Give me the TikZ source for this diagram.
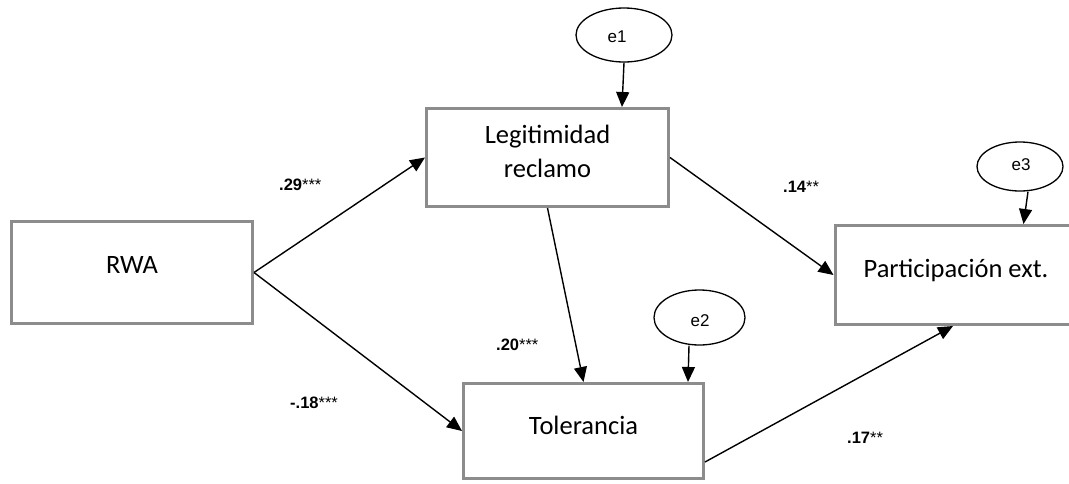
\documentclass[tikz,border=0pt]{standalone}
\usepackage{fontspec}
\setmainfont{Carlito}
\newfontfamily\arialf{Liberation Sans}
\usetikzlibrary{arrows.meta,calc,shapes.geometric}
\definecolor{boxgray}{HTML}{8C8C8C}
\begin{document}
\begin{tikzpicture}[x=1pt,y=-1pt,
  varbox/.style={draw=boxgray,line width=3pt,fill=white,inner sep=0pt,minimum width=#1},
  errell/.style={draw=black,line width=1.3pt,ellipse,inner sep=0pt,minimum width=#1},
  boxtext/.style={anchor=base,font=\fontsize{26.5}{34}\selectfont,inner sep=0pt},
  errtext/.style={anchor=base,font=\arialf\fontsize{17}{20}\selectfont,inner sep=0pt},
  coef/.style={anchor=base west,font=\arialf\bfseries\fontsize{16.5}{19}\selectfont,inner sep=0pt},
  path/.style={draw=black,line width=1.4pt,-{Triangle[length=15pt,width=13pt]}}
]
\useasboundingbox (0,0) rectangle (1069,483);
\clip (0,0) rectangle (1069,483);
% boxes
\node[varbox=241pt,minimum height=102pt] (rwa) at (132,272.5) {};
\node[varbox=242pt,minimum height=98pt] (leg) at (547.5,157.5) {};
\node[varbox=244pt,minimum height=99pt] (part) at (957,275) {};
\node[varbox=240pt,minimum height=95pt] (tol) at (583.5,431) {};
% box texts
\node[boxtext] (rwaT) at (132,273) {RWA};
\node[boxtext] (legT1) at (547.5,143) {Legitimidad};
\node[boxtext] (legT2) at (547.5,177) {reclamo};
\node[boxtext] (partT) at (956,277) {Participación ext.};
\node[boxtext] (tolT) at (583.5,434) {Tolerancia};
% error ellipses
\node[errell=96pt,minimum height=54pt] (e1) at (624,35) {};
\node[errell=91pt,minimum height=55pt] (e2) at (699.5,317.5) {};
\node[errell=86pt,minimum height=49pt] (e3) at (1020,166.5) {};
\node[errtext] (e1T) at (617,42) {e1};
\node[errtext] (e2T) at (700,326) {e2};
\node[errtext] (e3T) at (1021,170) {e3};
% coefficients
\node[coef] (c29) at (279,190) {.29\textmd{***}};
\node[coef] (c14) at (783,192) {.14\textmd{**}};
\node[coef] (c20) at (496,350) {.20\textmd{***}};
\node[coef] (c18) at (290,408) {-.18\textmd{***}};
\node[coef] (c17) at (847,443) {.17\textmd{**}};
% paths
\draw[path] (rwa.east) -- (leg.west);
\draw[path] (rwa.east) -- (tol.west);
\draw[path] (leg.south) -- (tol.north);
\draw[path] (leg.east) -- (part.west);
\draw[path] ($(tol.east)+(0,31)$) -- ($(part.south)+(-4,0)$);
\coordinate (e1foot) at ($(leg.north east)+(-48,0)$);
\coordinate (e2top) at ($(e2.south)+(-10.5,0)$);
\coordinate (e2foot) at ($(tol.north east)+(-17,0)$);
\coordinate (e3top) at ($(e3.south)+(8,0)$);
\coordinate (e3foot) at ($(part.north west)+(190,0)$);
\draw[path] (e1.south) -- (e1foot);
\draw[path] (e2top) -- (e2foot);
\draw[path] (e3top) -- (e3foot);
\end{tikzpicture}
\end{document}
